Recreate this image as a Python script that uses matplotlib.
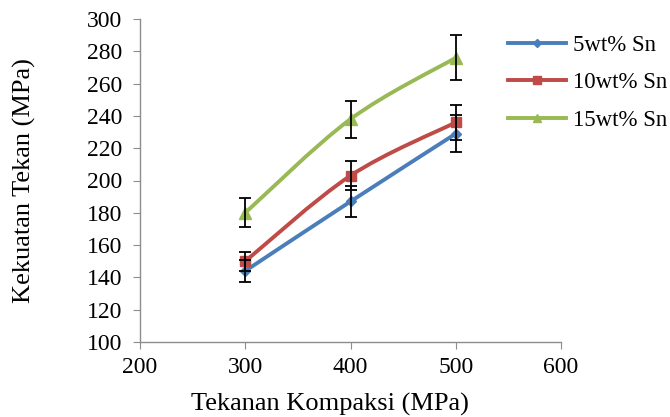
import numpy as np
import matplotlib
matplotlib.use("Agg")
import matplotlib.pyplot as plt
from matplotlib.path import Path
from matplotlib.patches import PathPatch
from matplotlib.lines import Line2D

plt.rcParams["font.family"] = ["Liberation Serif", "DejaVu Serif"]

# Data
pressure = [300, 400, 500]
labels = ["5wt% Sn", "10wt% Sn", "15wt% Sn"]
strength_5 = [144, 187, 229]
strength_10 = [150, 203, 236]
strength_15 = [180, 238, 276]
err_5 = [7, 9.5, 11.5]
err_10 = [6, 9, 11]
err_15 = [9, 11.5, 14]

colors = ["#4a7ebb", "#be4b48", "#98b954"]
markers = ["D", "s", "^"]
msizes = [5, 7, 8]


def smooth_path(x, y):
    # Excel-style smoothed line as cubic Bezier segments
    pts = np.column_stack([x, y]).astype(float)
    verts = [pts[0]]
    codes = [Path.MOVETO]
    n = len(pts)
    for i in range(n - 1):
        p0 = pts[max(i - 1, 0)]
        p1 = pts[i]
        p2 = pts[i + 1]
        p3 = pts[min(i + 2, n - 1)]
        c1 = p1 + (p2 - p0) / 6.0
        c2 = p2 - (p3 - p1) / 6.0
        verts += [c1, c2, p2]
        codes += [Path.CURVE4] * 3
    return Path(verts, codes)


fig = plt.figure(figsize=(6.70, 4.17), dpi=100)
ax = fig.add_axes([140 / 670, 1 - 342 / 417, 421 / 670, 323 / 417])

series = [strength_5, strength_10, strength_15]
errors = [err_5, err_10, err_15]
handles = []
for vals, errs, c, m, ms, lab in zip(series, errors, colors, markers, msizes, labels):
    patch = PathPatch(smooth_path(pressure, vals), facecolor="none",
                      edgecolor=c, lw=2.8, zorder=2, capstyle="round")
    ax.add_patch(patch)
    ax.plot(pressure, vals, linestyle="none", marker=m, ms=ms, color=c, zorder=3)
    ax.errorbar(pressure, vals, yerr=errs, fmt="none", ecolor="black",
                elinewidth=1.3, capsize=4.5, capthick=1.3, zorder=4)
    handles.append(Line2D([], [], color=c, lw=2.8, marker=m, ms=ms * 0.8, label=lab))

ax.set_xlim(200, 600)
ax.set_ylim(100, 300)
ax.set_xticks(np.arange(200, 601, 100))
ax.set_yticks(np.arange(100, 301, 20))

for s in ["top", "right"]:
    ax.spines[s].set_visible(False)
for s in ["left", "bottom"]:
    ax.spines[s].set_color("#8c8c8c")
    ax.spines[s].set_linewidth(1.0)
ax.tick_params(direction="out", length=5, color="#8c8c8c", labelsize=17,
               labelcolor="black")
ax.tick_params(axis="y", pad=8)
ax.tick_params(axis="x", pad=6)

ax.set_xlabel("Tekanan Kompaksi (MPa)", fontsize=19)
ax.xaxis.set_label_coords(0.45, -0.158)
ax.set_ylabel("Kekuatan Tekan (MPa)", fontsize=19, labelpad=36)

leg = ax.legend(handles=handles, loc="upper left", bbox_to_anchor=(0.826, 1.015),
                frameon=False, fontsize=16.5, handlelength=2.5, labelspacing=0.72,
                handletextpad=0.3)

fig.savefig("out.png", dpi=100)
